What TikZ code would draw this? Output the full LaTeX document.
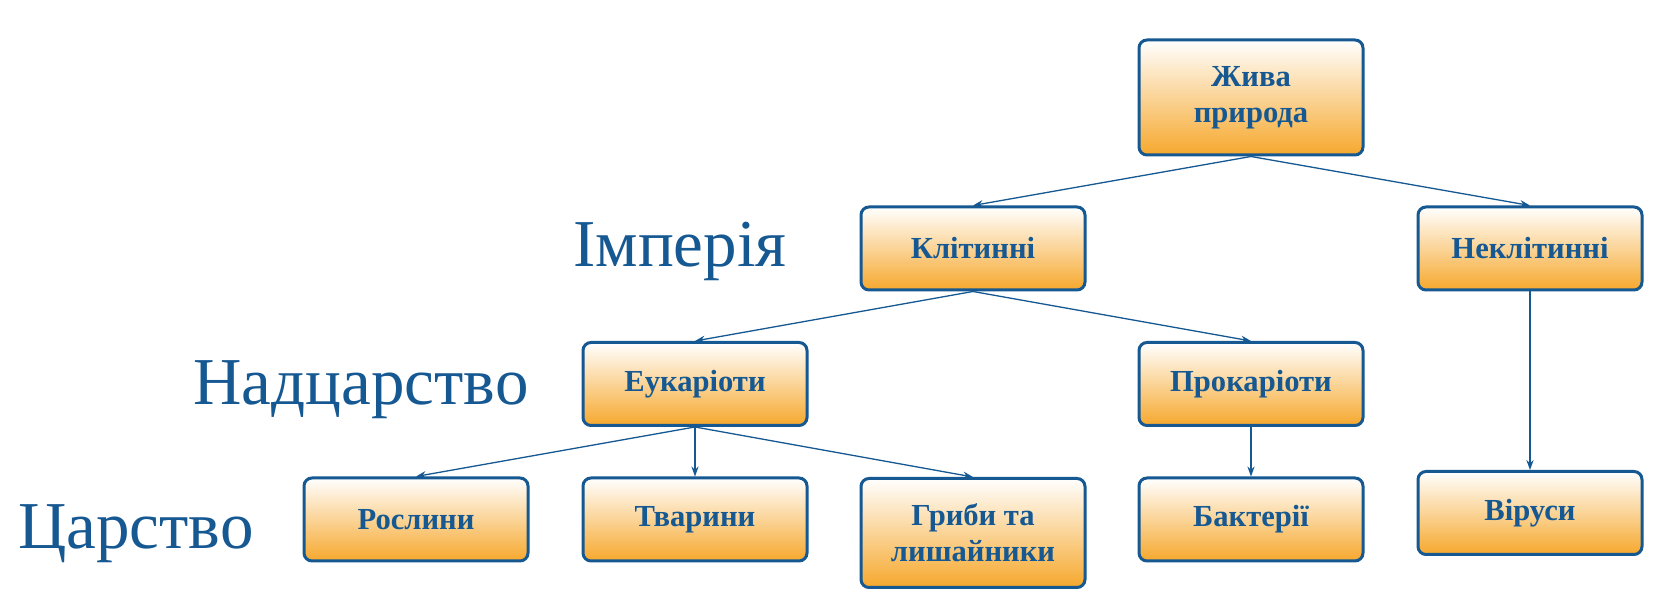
\documentclass[tikz,border=0pt]{standalone}
\usepackage{fontspec}
\setmainfont{Liberation Serif}
\usetikzlibrary{arrows.meta}
\definecolor{dblue}{RGB}{22,88,145}
\definecolor{orng}{RGB}{246,168,45}
\tikzset{
  box/.style={draw=dblue, line width=1.5pt, rounded corners=4pt,
    top color=white, bottom color=orng, text=dblue,
    minimum width=112pt, inner sep=2pt, align=center,
    font=\fontsize{15.3}{18}\selectfont\bfseries},
  lvl/.style={text=dblue, font=\fontsize{33.5}{36}\selectfont, anchor=base, inner sep=0pt},
  conn/.style={draw=dblue, line width=0.65pt, -{Stealth[length=5pt,width=3.6pt]}}
}
\begin{document}
\begin{tikzpicture}[x=0.5pt,y=-0.5pt]
\useasboundingbox (0,0) rectangle (1667,613);
\node[box, minimum height=57.5pt] (zp) at (1251,97.5) {Жива\\природа};
\node[box, minimum height=41.5pt] (kl) at (973,248.5) {Клітинні};
\node[box, minimum height=41.5pt] (nk) at (1530,248.5) {Неклітинні};
\node[box, minimum height=41.5pt] (eu) at (695,384) {Еукаріоти};
\node[box, minimum height=41.5pt] (pr) at (1251,384) {Прокаріоти};
\node[box, minimum height=41.5pt] (ro) at (416,519.5) {Рослини};
\node[box, minimum height=41.5pt] (tv) at (695,519.5) {Тварини};
\node[box, minimum height=54.5pt] (gr) at (973,533) {Гриби та\\лишайники};
\node[box, minimum height=41.5pt] (ba) at (1251,519.5) {Бактерії};
\node[box, minimum height=41.5pt] (vi) at (1530,513) {Віруси};
\node[lvl] (l1) at (680,267) {Імперія};
\node[lvl] (l2) at (361,405) {Надцарство};
\node[lvl] (l3) at (136,549) {Царство};
\draw[conn] (zp.south) -- (kl.north);
\draw[conn] (zp.south) -- (nk.north);
\draw[conn] (kl.south) -- (eu.north);
\draw[conn] (kl.south) -- (pr.north);
\draw[conn] (nk.south) -- (vi.north);
\draw[conn] (eu.south) -- (ro.north);
\draw[conn] (eu.south) -- (tv.north);
\draw[conn] (eu.south) -- (gr.north);
\draw[conn] (pr.south) -- (ba.north);
\end{tikzpicture}
\end{document}
